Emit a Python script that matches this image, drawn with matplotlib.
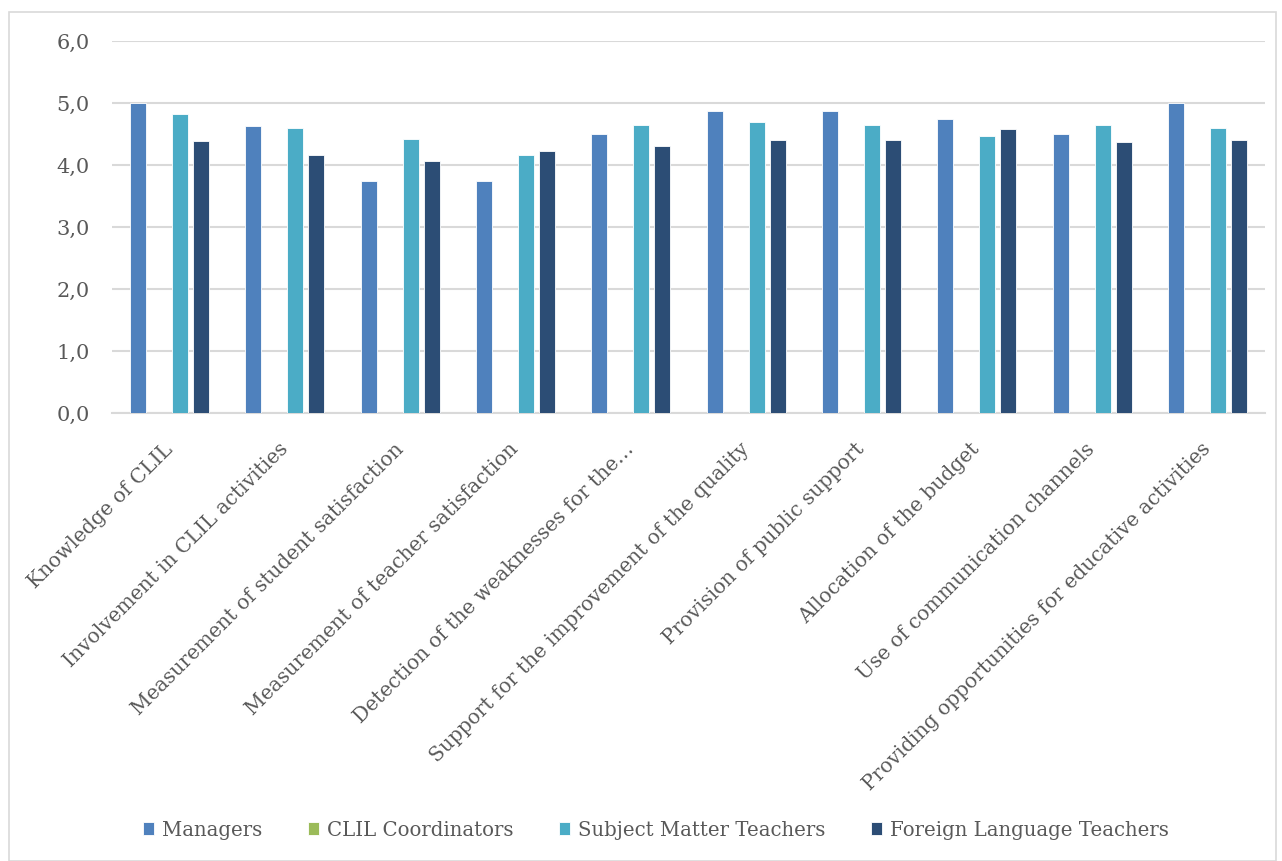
import matplotlib
matplotlib.use("Agg")
import matplotlib.pyplot as plt
import numpy as np
from matplotlib.patches import Rectangle

categories = [
    "Knowledge of CLIL",
    "Involvement in CLIL activities",
    "Measurement of student satisfaction",
    "Measurement of teacher satisfaction",
    "Detection of the weaknesses for the\u2026",
    "Support for the improvement of the quality",
    "Provision of public support",
    "Allocation of the budget",
    "Use of communication channels",
    "Providing opportunities for educative activities",
]
series_names = ["Managers", "CLIL Coordinators", "Subject Matter Teachers", "Foreign Language Teachers"]
managers = [5.0, 4.625, 3.75, 3.75, 4.5, 4.875, 4.875, 4.75, 4.5, 5.0]
clil_coordinators = [0, 0, 0, 0, 0, 0, 0, 0, 0, 0]
subject_teachers = [4.82, 4.60, 4.42, 4.16, 4.64, 4.69, 4.64, 4.46, 4.64, 4.60]
language_teachers = [4.38, 4.16, 4.06, 4.23, 4.30, 4.40, 4.40, 4.58, 4.37, 4.40]
yticks = [0, 1, 2, 3, 4, 5, 6]
ytick_labels = ["0,0", "1,0", "2,0", "3,0", "4,0", "5,0", "6,0"]

colors = ["#4F81BD", "#9BBB59", "#4BACC6", "#2C4D75"]
font = ["DejaVu Serif"]
txt = "#595959"

fig = plt.figure(figsize=(12.82, 8.61), dpi=100)
ax = fig.add_axes([112 / 1282, 1 - 413 / 861, (1265 - 112) / 1282, (413 - 41) / 861])

x = np.arange(len(categories))
data = [managers, clil_coordinators, subject_teachers, language_teachers]
step = 21 / 115.3
width = 16 / 115.3
for i, (vals, name, c) in enumerate(zip(data, series_names, colors)):
    ax.bar(x + (i - 1.5) * step, vals, width, color=c, label=name,
           edgecolor="white", linewidth=0.6, zorder=3)

ax.set_xlim(-0.5, len(categories) - 0.5)
ax.set_ylim(0, 6)
ax.set_yticks(yticks)
ax.set_yticklabels(ytick_labels, fontfamily=font, fontsize=15, color=txt)
ax.yaxis.grid(True, color="#D9D9D9", linewidth=1.5, zorder=0)
ax.set_axisbelow(True)
for s in ["top", "right", "left"]:
    ax.spines[s].set_visible(False)
ax.spines["bottom"].set_color("#D9D9D9")
ax.spines["bottom"].set_linewidth(1.5)
ax.tick_params(axis="y", length=0, pad=16)
ax.tick_params(axis="x", length=0, pad=24)
ax.set_xticks(x)
ax.set_xticklabels(categories, rotation=45, ha="right", va="center",
                   rotation_mode="anchor", fontfamily=font, fontsize=14.5, color=txt)

leg = fig.legend(loc="center", bbox_to_anchor=(656 / 1282, 1 - 830 / 861), ncol=4,
                 frameon=False, prop={"family": font, "size": 14.2},
                 handlelength=0.58, handleheight=0.58, handletextpad=0.4, columnspacing=2.3)
for t in leg.get_texts():
    t.set_color(txt)

fig.patches.append(Rectangle((9 / 1282, 0), (1276 - 9) / 1282, 1 - 12 / 861,
                             transform=fig.transFigure, fill=False,
                             edgecolor="#D9D9D9", linewidth=1.2))

fig.savefig("out.png", dpi=100, facecolor="white")
